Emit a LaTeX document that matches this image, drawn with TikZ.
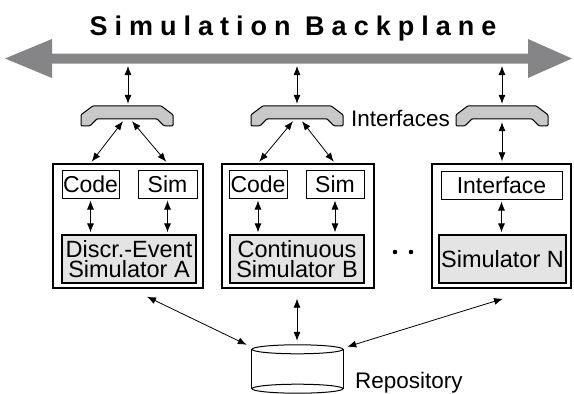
\documentclass[tikz,border=0pt]{standalone}
\usepackage{fontspec}
\setmainfont{Liberation Sans}
\newfontfamily\titlefont[LetterSpace=26]{Liberation Sans}
\usetikzlibrary{arrows.meta,calc}
\definecolor{bpgray}{RGB}{133,133,136}
\definecolor{plategray}{RGB}{200,200,200}
\definecolor{simgray}{RGB}{228,228,228}
\begin{document}
\begin{tikzpicture}[x=1pt,y=-1pt,
  dbl/.style={{Latex[length=9pt,width=7pt]}-{Latex[length=9pt,width=7pt]}, line width=0.8pt},
  outerbox/.style={draw, line width=1.4pt, fill=white, inner sep=0pt, minimum height=124pt},
  smallbox/.style={draw, line width=1pt, fill=white, inner sep=0pt, minimum height=28pt, font=\fontsize{23}{20}\selectfont},
  simbox/.style={draw, line width=1.3pt, fill=simgray, inner sep=0pt, minimum height=48pt, align=center, font=\fontsize{23.5}{20.5}\selectfont},
  platebox/.style={inner sep=0pt, minimum width=92pt, minimum height=20pt},
  plate/.style={draw, line width=1pt, fill=plategray, rounded corners=1pt},
  lbl/.style={font=\fontsize{22.5}{20}\selectfont, inner sep=0pt}
]
\useasboundingbox (0,0) rectangle (574,394);

% title
\node[anchor=base, inner sep=0pt, font=\titlefont\bfseries\fontsize{27}{30}\selectfont] (title) at (293,35.5) {Simulation Backplane};

% backplane arrow
\fill[bpgray] (5,58.5) -- (52,39) -- (52,53.5) -- (528,53.5) -- (528,39) -- (572,58.5)
  -- (528,78) -- (528,63.5) -- (52,63.5) -- (52,78) -- cycle;
\coordinate (bp1) at (128,63.5);
\coordinate (bp2) at (297,63.5);
\coordinate (bp3) at (502,63.5);

% interface plates
\node[platebox] (if1) at (127,116) {};
\node[platebox] (if2) at (297,116) {};
\node[platebox] (if3) at (502,116) {};
\foreach \p in {if1,if2,if3}{
  \draw[plate, shift={(\p.north)}] (-46,9) -- (-34,0) -- (34,0) -- (46,9) -- (46,20) -- (37,20)
    -- (30,13) -- (-30,13) -- (-37,20) -- (-46,20) -- cycle;
}
\node[lbl, anchor=base west] (iflbl) at (351,126.5) {Interfaces};

% outer boxes
\node[outerbox, minimum width=150pt] (box1) at (128,226) {};
\node[outerbox, minimum width=152pt] (box2) at (298,226) {};
\node[outerbox, minimum width=139pt] (box3) at (501.5,226) {};

% inner boxes
\node[smallbox, minimum width=57pt] (code1) at (90.5,184) {Code};
\node[smallbox, minimum width=59pt] (sim1) at (167.5,184) {Sim};
\node[simbox, minimum width=134pt] (des1) at (129,259) {Discr.-Event\\Simulator A};
\node[smallbox, minimum width=58pt] (code2) at (258,184) {Code};
\node[smallbox, minimum width=58pt] (sim2) at (335,184) {Sim};
\node[simbox, minimum width=134pt] (des2) at (297,259) {Continuous\\Simulator B};
\node[smallbox, minimum width=121pt] (ifc3) at (501.5,185) {Interface};
\node[simbox, minimum width=127pt] (des3) at (502.5,259) {Simulator N};

% dots
\fill (395,252) circle[radius=2.3pt];
\fill (411,252) circle[radius=2.3pt];

% repository
\node[inner sep=0pt, minimum width=91pt, minimum height=48pt] (repo) at (297.5,369) {};
\draw[line width=1pt] ($(repo.north west)+(0,4.5)$) -- ($(repo.south west)+(0,-4.5)$);
\draw[line width=1pt] ($(repo.north east)+(0,4.5)$) -- ($(repo.south east)+(0,-4.5)$);
\draw[line width=1pt] ($(repo.north)+(0,4.5)$) ellipse[x radius=45.5pt, y radius=4.5pt];
\draw[line width=1pt] ($(repo.south)+(0,-4.5)$) ellipse[x radius=45.5pt, y radius=4.5pt];
\node[lbl, anchor=base west] (repolbl) at (355,388) {Repository};

% backplane to plates
\draw[dbl, shorten <=2.5pt, shorten >=2pt] (bp1) -- (bp1 |- if1.north);
\draw[dbl, shorten <=2.5pt, shorten >=2pt] (bp2) -- (bp2 |- if2.north);
\draw[dbl, shorten <=2.5pt, shorten >=2pt] (bp3) -- (bp3 |- if3.north);

% plates to boxes
\draw[dbl, shorten >=2pt] ($(if1.south)+(-4,-5)$) -- (code1.north |- box1.north);
\draw[dbl, shorten >=2pt] ($(if1.south)+(5,-5)$) -- (sim1.north |- box1.north);
\draw[dbl, shorten >=2pt] ($(if2.south)+(-4,-5)$) -- (code2.north |- box2.north);
\draw[dbl, shorten >=2pt] ($(if2.south)+(5,-5)$) -- (sim2.north |- box2.north);
\draw[dbl, shorten >=2pt] ($(if3.south)+(0,-4)$) -- (if3.south |- box3.north);

% inner arrows
\draw[dbl, shorten <=2pt, shorten >=2pt] (code1.south) -- (code1.south |- des1.north);
\draw[dbl, shorten <=2pt, shorten >=2pt] (sim1.south) -- (sim1.south |- des1.north);
\draw[dbl, shorten <=2pt, shorten >=2pt] (code2.south) -- (code2.south |- des2.north);
\draw[dbl, shorten <=2pt, shorten >=2pt] (sim2.south) -- (sim2.south |- des2.north);
\draw[dbl, shorten <=2pt, shorten >=2pt] (ifc3.south) -- (ifc3.south |- des3.north);

% to repository
\draw[dbl] ($(box1.south)+(19,8)$) -- ($(repo.north west)+(-5,0)$);
\draw[dbl] ($(box2.south)+(-1,10)$) -- ($(repo.north)+(-0.5,-4)$);
\draw[dbl] ($(box3.south)+(1.5,10)$) -- ($(repo.north east)+(4,2)$);
\end{tikzpicture}
\end{document}
